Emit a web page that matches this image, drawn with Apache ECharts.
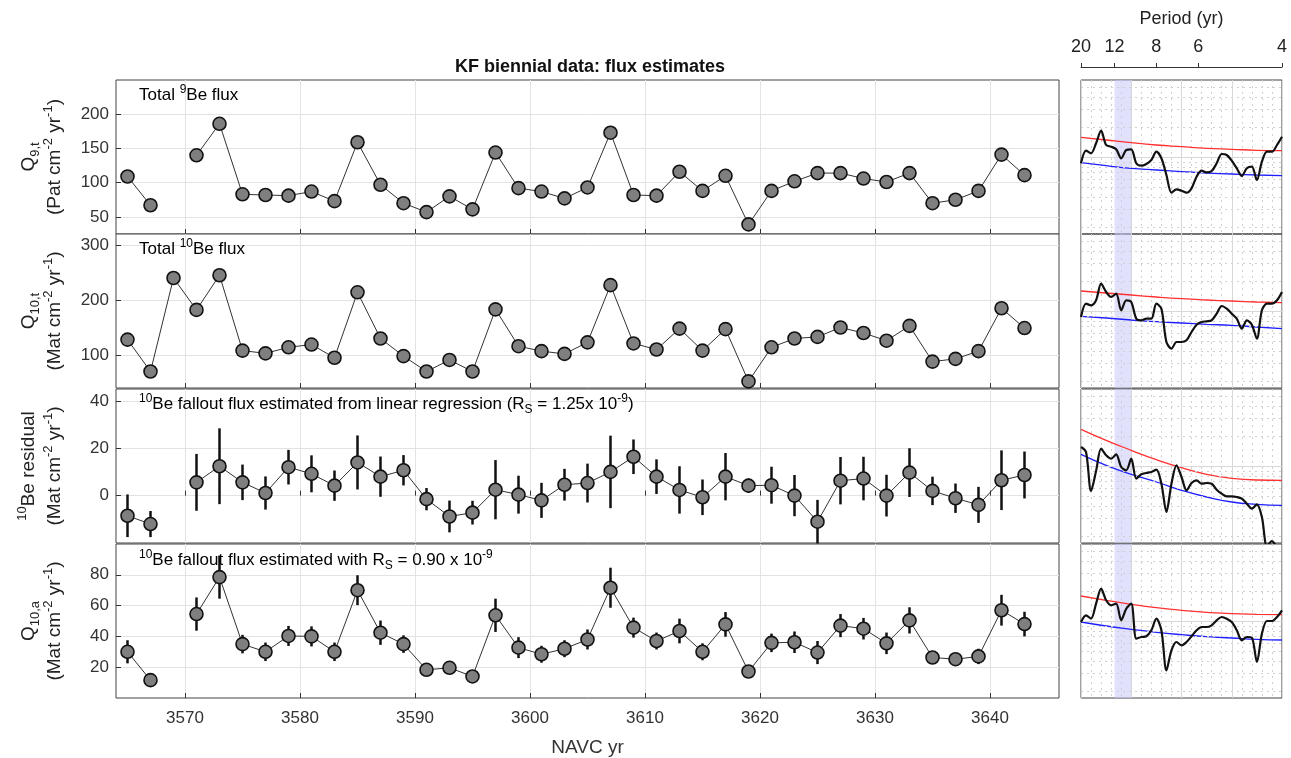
<!DOCTYPE html>
<html><head><meta charset="utf-8">
<script src="https://cdn.jsdelivr.net/npm/echarts@6/dist/echarts.min.js"></script>
<style>html,body{margin:0;background:#fff}#main{width:1291px;height:758px}</style>
</head><body><div id="main"></div>
<script>
let myChart = echarts.init(document.getElementById('main'));

// biennial data
let years = [3565,3567,3569,3571,3573,3575,3577,3579,3581,3583,3585,3587,3589,3591,3593,3595,3597,3599,3601,3603,
             3605,3607,3609,3611,3613,3615,3617,3619,3621,3623,3625,3627,3629,3631,3633,3635,3637,3639,3641,3643];
let q9 = [109,67,null,140,186,83,82,81,87,73,159,97,70,57,80,61,144,92,87,77,
          93,173,82,81,116,88,110,39,88,102,114,114,106,101,114,70,75,88,141,111];
let q10 = [128,70,240,182,245,108,103,114,119,95,214,130,98,70,91,70,183,116,107,102,
           123,227,121,110,148,108,147,52,114,130,133,150,140,126,153,88,93,107,185,149];
let res = [-8.5,-12,null,5.6,12.4,5.6,1.1,12,9.2,4.2,14,8,10.7,-1.5,-8.8,-7.2,2.5,0.4,-2,4.6,
           5.3,10,16.4,8,2.4,-0.7,8,4.2,4.4,0,-11,6.3,7.2,0,9.7,2,-1.1,-3.9,6.5,8.7];
let resErr = [9,5.5,null,12,16,7.5,7,7.3,7.8,6.4,11.4,8.5,6.4,4.7,6.7,5,12.5,8,7.4,6.7,
              8.2,15.3,7.3,7.3,10,7.5,10,3,7.8,8.7,9.2,10,9.2,8.8,10.3,6,6.2,7.6,12.6,9.9];
let q10a = [30,11.6,null,54.5,78.5,35,30,40.3,40,30,70,42.4,35,18.3,19.6,14,53.7,32.7,28.4,32,
            38,71.6,45.7,37,43.5,30,47.8,17.2,35.8,36.2,29.5,47,45,35.5,50.4,26.3,25.2,27,57,48];
let q10aErr = [7.5,4,null,10.8,14,6,6,6.5,6.5,6,9.7,7.9,5.7,3,4,3,10.8,6.8,5.5,5.5,
               6.5,13,6.5,5.5,8,5.5,8,2,6,7,7.5,7.5,7,7,8.5,4,4,5,10,8];
let xTicks = [3570,3580,3590,3600,3610,3620,3630,3640];

// spectra (frequency 1/yr, log10 power relative)
let freq = [0.05,0.055,0.06,0.065,0.07,0.075,0.08,0.085,0.09,0.095,0.1,0.105,0.11,0.115,0.12,0.125,0.13,0.135,0.14,0.145,
            0.15,0.155,0.16,0.165,0.17,0.175,0.18,0.185,0.19,0.195,0.2,0.205,0.21,0.215,0.22,0.225,0.23,0.235,0.24,0.245,0.25];
let spec9 = [-0.063,0.063,0.037,0.137,0.263,0.12,0.103,0.077,-0.013,0.07,0.077,-0.063,-0.087,-0.07,-0.03,0.053,-0.013,-0.18,-0.357,-0.323,
             -0.337,-0.357,-0.313,-0.197,-0.137,-0.153,-0.14,-0.063,0.03,0.02,-0.037,-0.113,-0.19,-0.113,-0.097,-0.23,-0.047,0.053,0.053,0.12,0.203];
let spec10 = [-0.06,0.073,0.057,0.107,0.273,0.19,0.14,0.173,0.007,0.107,0.09,-0.077,-0.093,-0.077,-0.077,0.073,0.023,-0.31,-0.377,-0.31,
              -0.31,-0.293,-0.21,-0.137,-0.11,-0.103,-0.093,-0.027,0.05,0.023,-0.027,-0.077,-0.177,-0.093,-0.137,-0.277,0.007,0.073,0.073,0.107,0.19];
let specRes = [0.19,0.14,-0.25,-0.05,0.173,0.107,0.073,0.117,-0.01,-0.043,0.073,-0.127,-0.083,-0.07,-0.06,-0.037,-0.177,-0.46,-0.177,0.007,
               -0.11,-0.243,-0.17,-0.143,-0.177,-0.17,-0.177,-0.237,-0.277,-0.303,-0.303,-0.31,-0.327,-0.377,-0.427,-0.383,-0.51,-0.8,-0.75,-0.8,-0.8];
let spec10a = [-0.01,0.057,0.023,0.173,0.323,0.207,0.157,0.173,0.007,0.123,0.173,-0.177,-0.16,-0.153,-0.093,0.023,-0.093,-0.493,-0.293,-0.21,
               -0.243,-0.21,-0.153,-0.093,-0.06,-0.06,-0.043,0.007,0.04,0.023,-0.01,-0.093,-0.193,-0.16,-0.167,-0.41,-0.127,0,0,0.04,0.107];
let confF = [0.05,0.075,0.1,0.125,0.15,0.175,0.2,0.225,0.25];
let red = [[0.197,0.17,0.143,0.12,0.103,0.087,0.077,0.067,0.063],
           [0.2,0.18,0.16,0.14,0.123,0.11,0.1,0.09,0.083],
           [0.367,0.257,0.157,0.063,-0.017,-0.083,-0.123,-0.14,-0.143],
           [0.25,0.207,0.167,0.133,0.107,0.087,0.073,0.067,0.063]];
let blue = [[-0.057,-0.087,-0.113,-0.13,-0.147,-0.16,-0.17,-0.18,-0.187],
            [-0.053,-0.07,-0.09,-0.107,-0.12,-0.133,-0.143,-0.16,-0.177],
            [0.117,0.007,-0.083,-0.16,-0.243,-0.31,-0.36,-0.383,-0.393],
            [-0.01,-0.05,-0.083,-0.113,-0.137,-0.157,-0.17,-0.183,-0.19]];
let periodTicks = [20,12,8,6,4];
let minorLog = [0.301,0.477,0.602,0.699,-0.046,-0.097,-0.155,-0.222,-0.301,-0.398,-0.523,-0.699];

const FONT = 'Liberation Sans';
const rich = {
    n: {fontSize: 17, fontFamily: FONT, color: '#222', lineHeight: 23},
    sp: {fontSize: 12, fontFamily: FONT, color: '#222', verticalAlign: 'top', lineHeight: 23, padding: [0, 0, 9, 0]},
    sb: {fontSize: 12, fontFamily: FONT, color: '#222', verticalAlign: 'bottom', lineHeight: 23, padding: [9, 0, 0, 0]}
};
const richY = {
    n: {fontSize: 19, fontFamily: FONT, color: '#222', lineHeight: 26},
    sp: {fontSize: 13, fontFamily: FONT, color: '#222', verticalAlign: 'top', lineHeight: 26, padding: [0, 0, 10, 0]},
    sb: {fontSize: 13, fontFamily: FONT, color: '#222', verticalAlign: 'bottom', lineHeight: 26, padding: [10, 0, 0, 0]}
};

let tops = [80, 234, 389, 544];
let H = 154;
let grids = [], xAxes = [], yAxes = [], series = [];
let yCfg = [
    {min: 25, max: 250, ticks: [50,100,150,200], name: '{n|Q}{sb|9,t}\n{n|(Pat cm}{sp|-2}{n| yr}{sp|-1}{n|)}'},
    {min: 40, max: 320, ticks: [100,200,300], name: '{n|Q}{sb|10,t}\n{n|(Mat cm}{sp|-2}{n| yr}{sp|-1}{n|)}'},
    {min: -20, max: 45, ticks: [0,20,40], name: '{sp|10}{n|Be residual}\n{n|(Mat cm}{sp|-2}{n| yr}{sp|-1}{n|)}'},
    {min: 0, max: 100, ticks: [20,40,60,80], name: '{n|Q}{sb|10,a}\n{n|(Mat cm}{sp|-2}{n| yr}{sp|-1}{n|)}'}
];
let vals = [q9, q10, res, q10a];
let errs = [null, null, resErr, q10aErr];

tops.forEach((t, i) => {
    grids.push({left: 116, width: 943, top: t, height: H, show: true, borderColor: '#444', borderWidth: 1, backgroundColor: '#fff'});
    xAxes.push({
        type: 'value', gridIndex: i, min: 3564, max: 3646,
        axisLine: {show: false},
        axisTick: {show: true, inside: true, length: 5, customValues: xTicks, lineStyle: {color: '#333'}},
        axisLabel: {show: i === 3, customValues: xTicks, formatter: v => String(v),
                    fontSize: 17, fontFamily: FONT, color: '#333', margin: 12},
        splitLine: {show: true, lineStyle: {color: '#e3e3e3'}},
        name: i === 3 ? 'NAVC yr' : '', nameLocation: 'middle', nameGap: 40,
        nameTextStyle: {fontSize: 19, fontFamily: FONT, color: '#333'}
    });
    let c = yCfg[i];
    yAxes.push({
        type: 'value', gridIndex: i, min: c.min, max: c.max,
        axisLine: {show: false},
        axisTick: {show: true, inside: true, length: 5, customValues: c.ticks, lineStyle: {color: '#333'}},
        axisLabel: {customValues: c.ticks, fontSize: 17, fontFamily: FONT, color: '#333', margin: 7},
        splitLine: {show: true, lineStyle: {color: '#e3e3e3'}},
        name: c.name, nameLocation: 'middle', nameRotate: 90, nameGap: 48,
        nameTextStyle: {rich: richY, align: 'center'}
    });
    if (errs[i]) {
        series.push({
            type: 'custom', xAxisIndex: i, yAxisIndex: i, z: 3,
            data: years.map((y, k) => vals[i][k] == null ? null : [y, vals[i][k] - errs[i][k], vals[i][k] + errs[i][k]]).filter(d => d),
            renderItem: function (params, api) {
                let p1 = api.coord([api.value(0), api.value(1)]);
                let p2 = api.coord([api.value(0), api.value(2)]);
                return {type: 'line', shape: {x1: p1[0], y1: p1[1], x2: p2[0], y2: p2[1]},
                        style: {stroke: '#111', lineWidth: 2.5}};
            }
        });
    }
    series.push({
        type: 'line', xAxisIndex: i, yAxisIndex: i, z: 4,
        data: years.map((y, k) => [y, vals[i][k]]),
        connectNulls: false, symbol: 'circle', symbolSize: 13,
        lineStyle: {color: '#333', width: 1},
        itemStyle: {color: '#7f7f7f', borderColor: '#111', borderWidth: 1.6}
    });
});

// spectral panels
let specs = [spec9, spec10, specRes, spec10a];
tops.forEach((t, i) => {
    let g = 4 + i;
    grids.push({left: 1081, width: 201, top: t, height: H, show: true, borderColor: '#444', borderWidth: 1});
    xAxes.push({
        type: 'value', gridIndex: g, min: 0.05, max: 0.25, interval: 0.05,
        axisLine: {show: false}, axisTick: {show: false}, axisLabel: {show: false},
        splitLine: {show: true, lineStyle: {color: '#d8d8d8'}},
        minorTick: {show: false, splitNumber: 5},
        minorSplitLine: {show: true, lineStyle: {color: '#d0d0d0', type: [2, 4]}}
    });
    yAxes.push({
        type: 'value', gridIndex: g, min: -0.77, max: 0.77,
        axisLine: {show: false}, axisTick: {show: false}, axisLabel: {show: false},
        splitLine: {show: false}
    });
    series.push({
        type: 'line', xAxisIndex: g, yAxisIndex: g, symbol: 'none', smooth: 0.3, z: 5, clip: true,
        data: freq.map((f, k) => [f, specs[i][k]]),
        lineStyle: {color: '#111', width: 2.2},
        markArea: {silent: true, itemStyle: {color: 'rgba(200,200,250,0.55)'}, data: [[{xAxis: 1 / 12}, {xAxis: 0.1}]]},
        markLine: {
            silent: true, symbol: 'none', label: {show: false},
            data: minorLog.map(v => ({yAxis: v, lineStyle: {color: '#d0d0d0', type: [2, 4], width: 1}}))
                .concat([{yAxis: 0, lineStyle: {color: '#d8d8d8', type: 'solid', width: 1}}])
        }
    });
    series.push({type: 'line', xAxisIndex: g, yAxisIndex: g, symbol: 'none', smooth: true, z: 4,
        data: confF.map((f, k) => [f, red[i][k]]), lineStyle: {color: '#ff3030', width: 1.3}});
    series.push({type: 'line', xAxisIndex: g, yAxisIndex: g, symbol: 'none', smooth: true, z: 4,
        data: confF.map((f, k) => [f, blue[i][k]]), lineStyle: {color: '#2020ff', width: 1.3}});
});

// period axis on top of the spectra
xAxes.push({
    type: 'value', gridIndex: 4, position: 'top', offset: 13, min: 0.05, max: 0.25,
    axisLine: {show: true, lineStyle: {color: '#333'}},
    axisTick: {show: true, length: 4, customValues: periodTicks.map(p => 1 / p), lineStyle: {color: '#333'}},
    axisLabel: {customValues: periodTicks.map(p => 1 / p), formatter: v => String(Math.round(1 / v)),
                fontSize: 18, fontFamily: FONT, color: '#222', margin: 11},
    splitLine: {show: false},
    name: 'Period (yr)', nameLocation: 'middle', nameGap: 39,
    nameTextStyle: {fontSize: 18, fontFamily: FONT, color: '#222'}
});

let option = {
    animation: false,
    title: {text: 'KF biennial data: flux estimates', left: 585, top: 53, textAlign: 'center',
            textStyle: {fontSize: 18, fontWeight: 'bold', fontFamily: FONT, color: '#111'}},
    graphic: [
        {type: 'text', left: 139, top: 84, z: 10, style: {rich: rich, text: '{n|Total }{sp|9}{n|Be flux}'}},
        {type: 'text', left: 139, top: 238, z: 10, style: {rich: rich, text: '{n|Total }{sp|10}{n|Be flux}'}},
        {type: 'text', left: 139, top: 393, z: 10, style: {rich: rich, text: '{sp|10}{n|Be fallout flux estimated from linear regression (R}{sb|S}{n| = 1.25x 10}{sp|-9}{n|)}'}},
        {type: 'text', left: 139, top: 549, z: 10, style: {rich: rich, text: '{sp|10}{n|Be fallout flux estimated with R}{sb|S}{n| = 0.90 x 10}{sp|-9}'}}
    ],
    grid: grids,
    xAxis: xAxes,
    yAxis: yAxes,
    series: series
};

myChart.setOption(option);
</script>
</body></html>
